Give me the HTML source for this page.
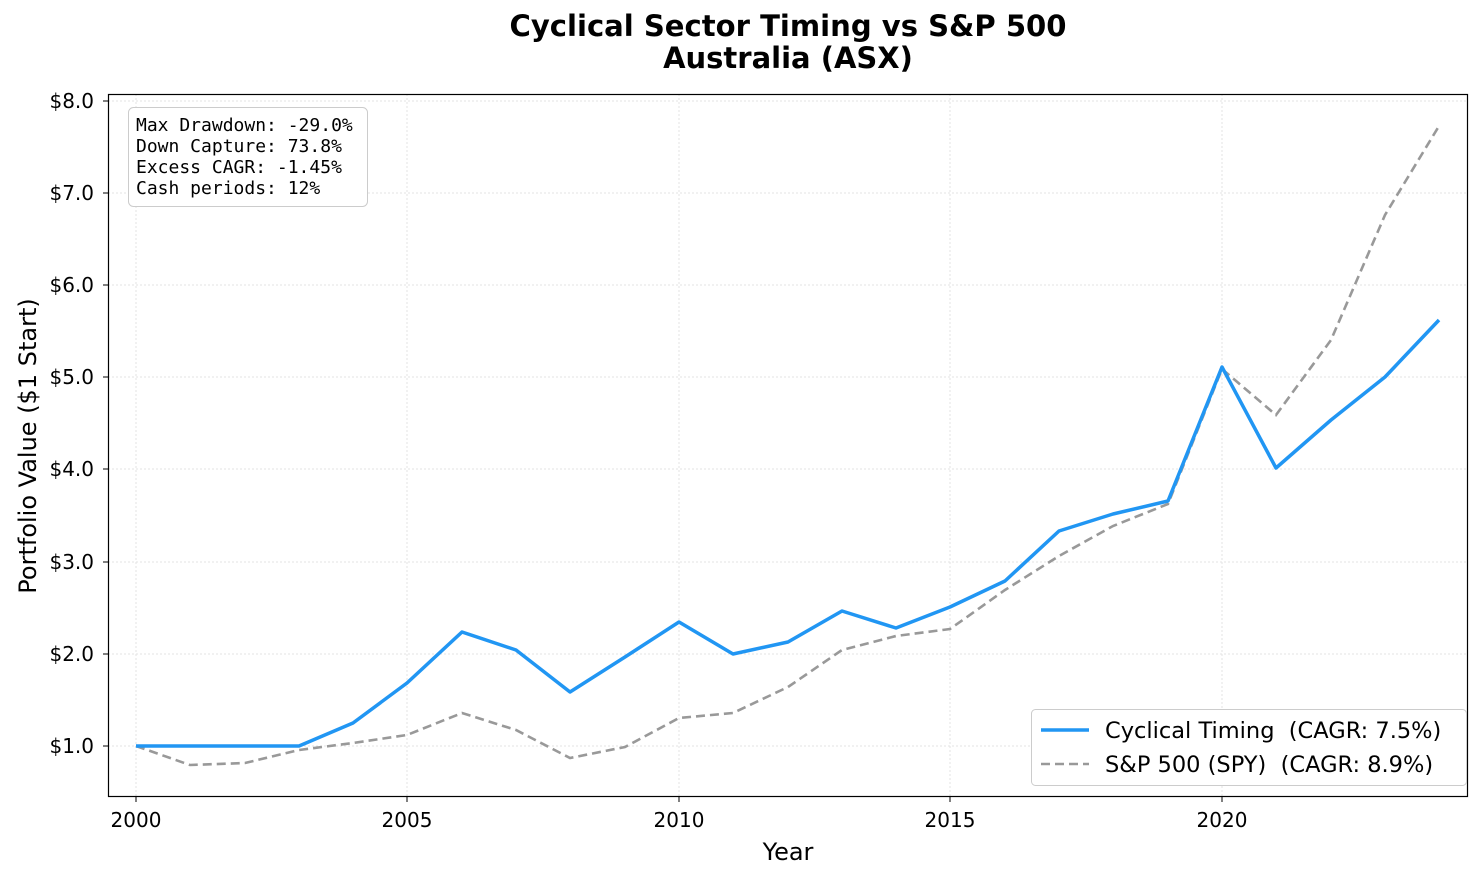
<!DOCTYPE html>
<html><head><meta charset="utf-8"><style>
body{margin:0;background:#fff;}
svg text{font-family:"DejaVu Sans","Liberation Sans",sans-serif;}
svg text.mono{font-family:"DejaVu Sans Mono","Liberation Mono",monospace;}
</style></head><body>
<svg width="1482" height="879" viewBox="0 0 1482 879" xmlns="http://www.w3.org/2000/svg">
<rect width="1482" height="879" fill="#fff"/>
<text x="788" y="36" font-size="29" font-weight="bold" text-anchor="middle" textLength="557" lengthAdjust="spacingAndGlyphs">Cyclical Sector Timing vs S&amp;P 500</text>
<text x="788" y="68" font-size="29" font-weight="bold" text-anchor="middle">Australia (ASX)</text>
<g stroke="#e3e3e3" stroke-dasharray="2,2" stroke-width="1">
<line x1="108" x2="1468" y1="746" y2="746"/><line x1="108" x2="1468" y1="654" y2="654"/>
<line x1="108" x2="1468" y1="562" y2="562"/><line x1="108" x2="1468" y1="469" y2="469"/>
<line x1="108" x2="1468" y1="377" y2="377"/><line x1="108" x2="1468" y1="285" y2="285"/>
<line x1="108" x2="1468" y1="193" y2="193"/><line x1="108" x2="1468" y1="101" y2="101"/>
<line y1="94" y2="797" x1="136" x2="136"/><line y1="94" y2="797" x1="407" x2="407"/>
<line y1="94" y2="797" x1="679" x2="679"/><line y1="94" y2="797" x1="950" x2="950"/>
<line y1="94" y2="797" x1="1222" x2="1222"/>
</g>
<polyline fill="none" stroke="#999" stroke-width="2.6" stroke-dasharray="9,5" points="136,746 190,765 245,763 299,750 353,743 407,735 462,713 516,730 570,758 625,747 679,718 733,713 788,687 842,650 896,636 950,629 1005,590 1059,556 1113,526 1168,504 1222,369 1276,415 1331,340 1385,215 1439,126"/>
<polyline fill="none" stroke="#2196F3" stroke-width="3.5" stroke-linejoin="round" points="136,746 190,746 245,746 299,746 353,723 407,683 462,632 516,650 570,692 625,657 679,622 733,654 788,642 842,611 896,628 950,607 1005,581 1059,531 1113,514 1168,501 1222,367 1276,468 1331,420 1385,377 1439,320"/>
<rect x="108.5" y="94.5" width="1359" height="702" fill="none" stroke="#000" stroke-width="1.2"/>
<g font-size="20" text-anchor="end">
<text x="94" y="753">$1.0</text><text x="94" y="661">$2.0</text><text x="94" y="569">$3.0</text><text x="94" y="476">$4.0</text><text x="94" y="384">$5.0</text><text x="94" y="292">$6.0</text><text x="94" y="200">$7.0</text><text x="94" y="108">$8.0</text>
</g>
<g stroke="#000"><line x1="103" x2="108" y1="746" y2="746"/><line x1="103" x2="108" y1="654" y2="654"/><line x1="103" x2="108" y1="562" y2="562"/><line x1="103" x2="108" y1="469" y2="469"/><line x1="103" x2="108" y1="377" y2="377"/><line x1="103" x2="108" y1="285" y2="285"/><line x1="103" x2="108" y1="193" y2="193"/><line x1="103" x2="108" y1="101" y2="101"/>
<line y1="797" y2="802" x1="136" x2="136"/><line y1="797" y2="802" x1="407" x2="407"/><line y1="797" y2="802" x1="679" x2="679"/><line y1="797" y2="802" x1="950" x2="950"/><line y1="797" y2="802" x1="1222" x2="1222"/></g>
<g font-size="20" text-anchor="middle"><text x="136" y="827">2000</text><text x="407" y="827">2005</text><text x="679" y="827">2010</text><text x="950" y="827">2015</text><text x="1222" y="827">2020</text></g>
<text x="788" y="860" font-size="24" text-anchor="middle">Year</text>
<text transform="translate(36,446) rotate(-90)" font-size="24" text-anchor="middle">Portfolio Value ($1 Start)</text>
<rect x="128.5" y="107.5" width="239" height="99" rx="5" fill="#fff" stroke="#ccc"/>
<g font-size="18">
<text class="mono" x="136" y="131">Max Drawdown: -29.0%</text><text class="mono" x="136" y="152">Down Capture: 73.8%</text><text class="mono" x="136" y="173">Excess CAGR: -1.45%</text><text class="mono" x="136" y="194">Cash periods: 12%</text></g>
<rect x="1031.5" y="709.5" width="435" height="76" rx="4" fill="#fff" stroke="#ccc"/>
<line x1="1041" x2="1089" y1="730" y2="730" stroke="#2196F3" stroke-width="3.5"/>
<line x1="1041" x2="1089" y1="764" y2="764" stroke="#999" stroke-width="2.6" stroke-dasharray="9,5"/>
<g font-size="22.5"><text x="1105" y="738" xml:space="preserve" style="white-space:pre">Cyclical Timing  (CAGR: 7.5%)</text><text x="1105" y="772" xml:space="preserve" style="white-space:pre">S&amp;P 500 (SPY)  (CAGR: 8.9%)</text></g>
</svg>
</body></html>
